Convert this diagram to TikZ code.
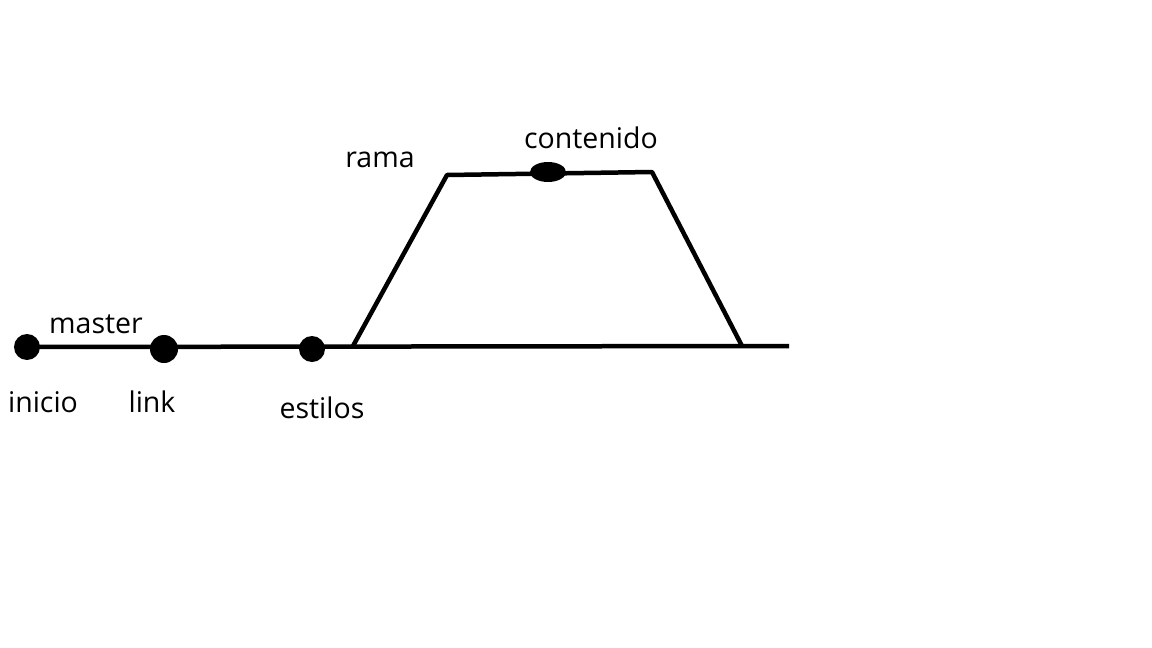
\documentclass[tikz,border=0pt]{standalone}
\usepackage{fontspec}
\setmainfont{Open Sans}
\usetikzlibrary{shapes.geometric}
\begin{document}
\begin{tikzpicture}[x=1pt,y=-1pt,
  ln/.style={line width=4.5pt,line join=round},
  dot/.style={circle,fill=black,inner sep=0pt},
  lbl/.style={anchor=base,inner sep=0pt,font=\fontsize{28.5}{34}\selectfont}]
\useasboundingbox (0,0) rectangle (1152,648);
\coordinate (s) at (27,347);
\coordinate (b1) at (353,346);
\coordinate (t1) at (447,175);
\coordinate (t2) at (652,172);
\coordinate (b2) at (742,346);
\coordinate (e) at (789,346);
\draw[ln] (s) -- (e);
\draw[ln] (b1) -- (t1) -- (t2) -- (b2);
\node[dot,minimum size=26pt] (inicio) at (27,347) {};
\node[dot,minimum size=28pt] (link) at (164,349) {};
\node[dot,minimum size=26pt] (estilos) at (312,349) {};
\node[ellipse,fill=black,inner sep=0pt,minimum width=36pt,minimum height=20pt] (cont) at (548,172) {};
\node[lbl] (tmaster) at (96,333) {master};
\node[lbl] (tinicio) at (43,412) {inicio};
\node[lbl] (tlink) at (152,412) {link};
\node[lbl] (testilos) at (322,418) {estilos};
\node[lbl] (trama) at (380,167) {rama};
\node[lbl] (tcont) at (591,148) {contenido};
\end{tikzpicture}
\end{document}
